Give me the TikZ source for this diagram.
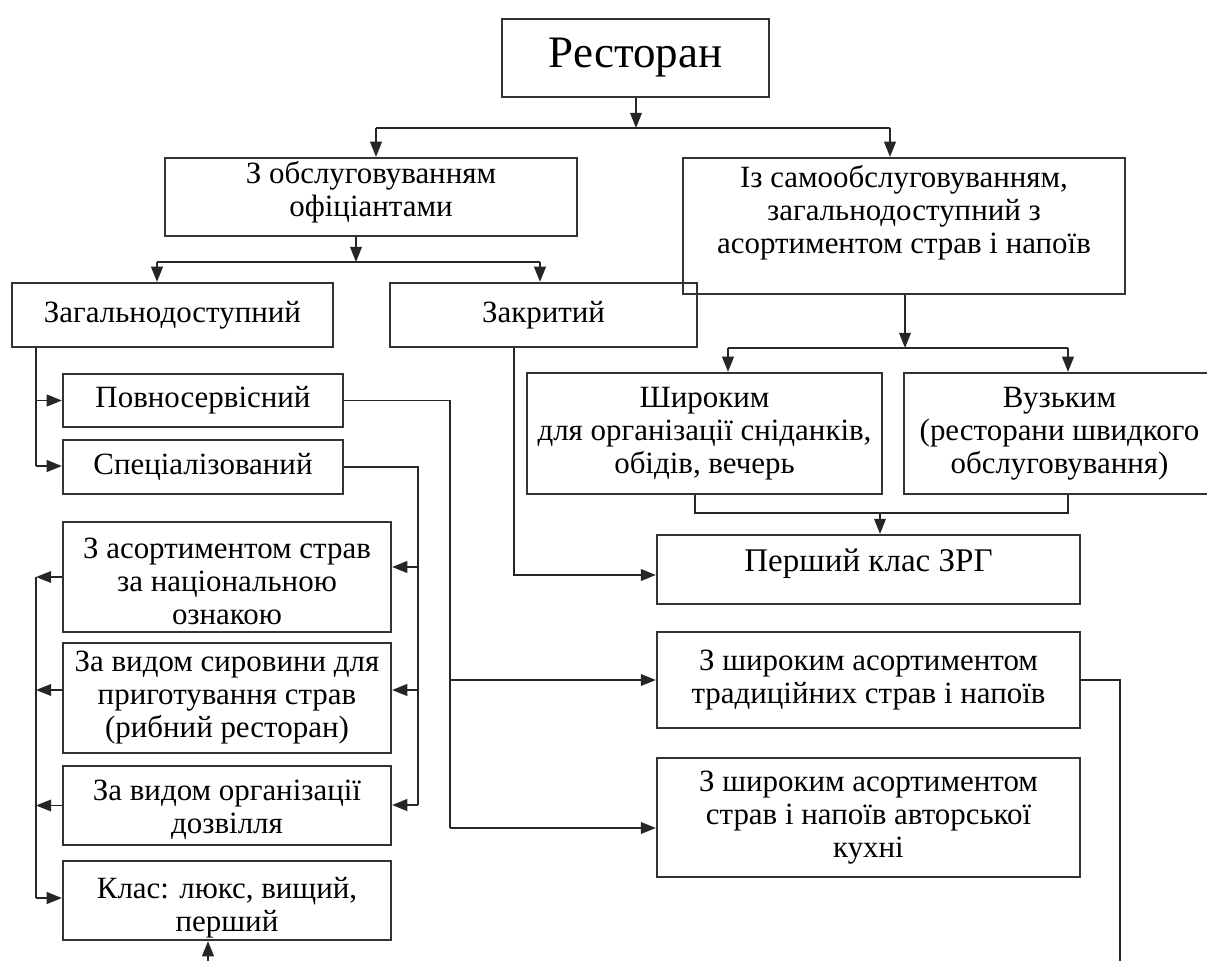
\documentclass[tikz,border=0pt]{standalone}
\usepackage{fontspec}
\setmainfont{Liberation Serif}
\usetikzlibrary{arrows.meta, positioning}

\begin{document}
\begin{tikzpicture}[
  x=0.25mm, y=-0.25mm,
  box/.style={draw=black!80, line width=1.5pt, align=center, inner sep=0pt,
    font=\fontsize{22}{23.5}\selectfont},
  sz/.style 2 args={minimum width=#1*0.25mm, minimum height=#2*0.25mm},
  arr/.style={-{Triangle[length=3.8mm, width=2.9mm]}, line width=1.4pt, draw=black!85},
  ln/.style={line width=1.4pt, draw=black!85}
]
\useasboundingbox (0,0) rectangle (1207,961);

% top levels
\node[box, sz={267}{78}, font=\fontsize{32}{34}\selectfont] (rest) at (635.5,58) {Ресторан};
\node[box, sz={412}{78}, text height=33pt]  (obsl) at (371,197) {З обслуговуванням\\офіціантами};
\node[box, sz={442}{136}, text height=43.6pt] (samo) at (904,226) {Із самообслуговуванням,\\загальнодоступний з\\асортиментом страв і напоїв};
\node[box, sz={321}{64}]  (zag)  at (172.5,315) {Загальнодоступний};
\node[box, sz={307}{64}]  (zakr) at (543.5,315) {Закритий};
\node[box, sz={355}{121}] (shyr) at (704.5,433.5) {Широким\\для організації сніданків,\\обідів, вечерь};
\node[box, sz={311}{121}] (vuz)  at (1059.5,433.5) {Вузьким\\(ресторани швидкого\\обслуговування)};

% right column
\node[box, sz={423}{69}, text depth=13pt, font=\fontsize{23.5}{25}\selectfont] (persh) at (868.5,569.5) {Перший клас ЗРГ};
\node[box, sz={423}{96}]  (trad)  at (868.5,680)   {З широким асортиментом\\традиційних страв і напоїв};
\node[box, sz={423}{119}] (avt)   at (868.5,817.5) {З широким асортиментом\\страв і напоїв авторської\\кухні};

% left column
\node[box, sz={280}{53}]  (povn) at (203,400.5) {Повносервісний};
\node[box, sz={280}{54}]  (spec) at (203,467)   {Спеціалізований};
\node[box, sz={328}{110}, text height=67.6pt] (nat) at (227,577) {З асортиментом страв\\за національною\\ознакою};
\node[box, sz={328}{110}] (syr)  at (227,698)   {За видом сировини для\\приготування страв\\(рибний ресторан)};
\node[box, sz={328}{79}, text height=44pt]   (dozv) at (227,805.5) {За видом організації\\дозвілля};
\node[box, sz={328}{79}, text height=48.5pt] (klas) at (227,900.5) {Клас: люкс, вищий,\\перший};

% junctions
\coordinate (j1) at (636,128);  \coordinate (j1a) at (376,128); \coordinate (j1b) at (890,128);
\coordinate (j2) at (356,262);  \coordinate (j2a) at (157,262); \coordinate (j2b) at (540,262);
\coordinate (j3) at (905,348);  \coordinate (j3a) at (728,348); \coordinate (j3b) at (1068,348);
\coordinate (j4a) at (695,513); \coordinate (j4b) at (1068,513); \coordinate (j4) at (880,513);
\coordinate (k1) at (514,575);
\coordinate (k2) at (36,466);
\coordinate (k3) at (450,828);
\coordinate (k4) at (418,805);
\coordinate (k5) at (36,898);
\coordinate (e1) at (208,961);
\coordinate (e2) at (1120,961);

\draw[arr] (rest.south -| j1) -- (j1);
\draw[ln] (j1a) -- (j1b);
\draw[arr] (j1a) -- (j1a |- obsl.north);
\draw[arr] (j1b) -- (j1b |- samo.north);

\draw[arr] (obsl.south -| j2) -- (j2);
\draw[ln] (j2a) -- (j2b);
\draw[arr] (j2a) -- (j2a |- zag.north);
\draw[arr] (j2b) -- (j2b |- zakr.north);

\draw[arr] (samo.south -| j3) -- (j3);
\draw[ln] (j3a) -- (j3b);
\draw[arr] (j3a) -- (j3a |- shyr.north);
\draw[arr] (j3b) -- (j3b |- vuz.north);

\draw[ln] (shyr.south -| j4a) -- (j4a) -- (j4b) -- (vuz.south -| j4b);
\draw[arr] (j4) -- (j4 |- persh.north);
\draw[arr] (zakr.south -| k1) -- (k1) -- (k1 -| persh.west);

\draw[ln] (zag.south -| k2) -- (k2);
\draw[arr] (povn.west -| k2) -- (povn.west);
\draw[arr] (k2) -- (k2 -| spec.west);

\draw[ln] (povn.east) -| (k3);
\draw[arr] (k3 |- trad.west) -- (trad.west);
\draw[arr] (k3) -- (k3 -| avt.west);

\draw[ln] (spec.east) -| (k4);
\draw[arr] (k4 |- 0,567) -- (nat.east |- 0,567);
\draw[arr] (k4 |- 0,690) -- (syr.east |- 0,690);
\draw[arr] (k4) -- (k4 -| dozv.east);

\draw[arr] (nat.west) -- (nat.west -| k5);
\draw[arr] (syr.west |- 0,690) -- (k5 |- 0,690);
\draw[arr] (dozv.west) -- (dozv.west -| k5);
\draw[ln] (nat.west -| k5) -- (k5);
\draw[arr] (k5) -- (k5 -| klas.west);

\draw[arr] (e1) -- (e1 |- klas.south);
\draw[ln, line width=1pt] (trad.east) -| (e2);
\end{tikzpicture}
\end{document}
